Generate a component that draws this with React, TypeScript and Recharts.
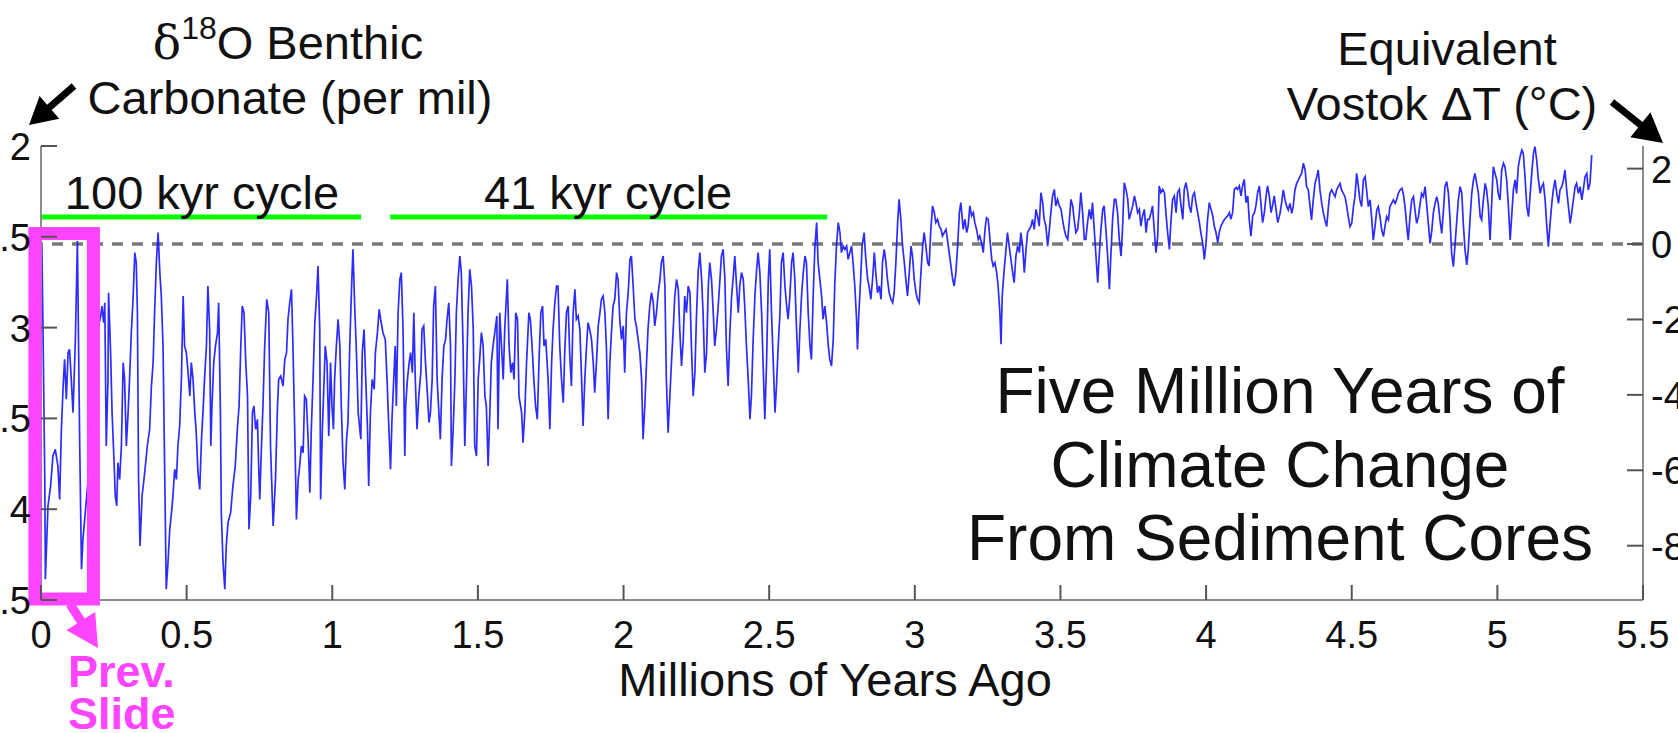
import React from 'react'
import { LineChart, Line, XAxis, YAxis, ReferenceLine, ReferenceArea } from 'recharts'

// benthic d18O stack in six pieces (age in Myr, value in per mil)
const AGE_A = [0.003,0.007,0.013,0.015,0.024,0.033,0.041,0.049,0.058,0.064,0.070,0.076,0.081,0.087,0.093,0.098,0.104,0.110,0.118,0.125,0.129,0.133,0.139,0.144,0.152,0.159,0.167,0.175,0.184,0.193,0.205,0.209,0.215,0.219,0.224,0.230,0.232,0.239,0.244,0.251,0.255,0.260,0.264,0.270,0.276,0.282,0.287,0.293,0.299,0.304,0.310,0.316,0.322,0.327,0.331,0.335,0.340,0.347,0.356,0.365,0.373,0.379,0.385,0.390,0.396,0.402,0.408,0.413,0.419,0.425,0.430,0.436,0.442,0.448,0.453,0.459,0.465,0.470,0.476,0.482,0.488,0.493,0.499,0.505,0.511,0.516,0.522,0.528,0.533,0.539,0.545,0.551,0.556,0.562,0.568,0.573,0.579,0.583,0.587,0.593,0.599,0.606,0.610,0.616,0.619,0.625,0.631,0.636,0.642,0.651,0.659,0.667,0.674,0.680,0.686,0.691,0.697,0.703,0.709,0.714,0.720,0.726,0.731,0.737,0.743,0.747,0.751,0.757,0.762,0.768,0.775,0.782,0.788]
const D18O_A = [2.551,3.028,3.836,4.386,3.982,3.872,3.707,3.670,3.762,3.946,3.560,3.322,3.175,3.395,3.138,3.120,3.285,3.468,3.065,2.523,3.101,3.652,4.331,4.166,4.019,3.891,3.744,3.560,3.285,3.028,2.936,2.881,2.973,2.863,3.652,3.285,2.808,3.138,3.468,3.744,3.927,3.982,3.744,3.836,3.652,3.193,3.285,3.652,3.468,3.285,3.028,2.844,2.587,2.642,2.918,3.836,4.203,3.927,3.799,3.652,3.560,3.322,3.193,2.918,2.642,2.477,2.697,2.826,3.101,3.836,4.441,4.294,4.111,4.019,3.927,3.780,3.836,3.652,3.542,3.285,2.826,3.101,3.138,3.248,3.377,3.193,3.285,3.468,3.579,3.799,3.891,3.615,3.468,3.266,3.101,2.771,3.010,3.652,3.432,3.193,3.101,3.028,2.863,3.468,4.019,4.294,4.441,4.203,4.074,4.019,3.872,3.762,3.560,3.432,3.101,2.881,2.918,3.193,3.377,4.111,3.927,3.468,3.432,3.560,3.505,3.744,3.946,3.652,3.432,3.101,2.844,2.918,3.652]

const AGE_B = [0.797,0.805,0.812,0.816,0.823,0.831,0.837,0.843,0.848,0.854,0.860,0.865,0.871,0.877,0.883,0.888,0.894,0.900,0.905,0.911,0.917,0.923,0.928,0.934,0.940,0.946,0.951,0.957,0.960,0.966,0.972,0.976,0.982,0.988,0.994,0.999,1.004,1.008,1.014,1.020,1.026,1.031,1.037,1.043,1.049,1.054,1.060,1.066,1.071,1.077,1.083,1.089,1.098,1.103,1.109,1.115,1.121,1.125,1.131,1.137,1.144,1.148,1.155,1.161,1.166,1.174,1.182,1.188,1.194,1.200,1.205,1.211,1.216,1.220,1.226,1.232,1.237,1.243,1.249,1.252,1.258,1.264,1.269,1.275,1.280,1.285,1.291,1.297,1.304,1.308,1.314,1.320,1.327,1.332,1.337,1.343,1.348,1.354,1.360,1.366,1.371,1.377,1.383,1.389,1.394,1.400,1.406,1.409,1.415,1.421,1.426,1.432,1.438,1.443,1.449,1.455,1.461,1.466,1.472,1.478,1.484,1.489,1.495,1.501,1.506,1.512,1.518,1.524,1.529,1.535,1.541,1.546,1.552,1.558,1.565]
const D18O_B = [4.092,3.836,3.432,3.285,3.266,3.322,3.175,3.138,2.954,2.863,2.789,3.101,3.560,4.056,3.836,3.762,3.652,3.689,3.377,3.395,3.615,3.909,3.560,3.285,2.973,2.826,2.661,3.010,3.946,3.560,3.285,3.101,3.193,3.597,3.193,3.432,3.560,3.285,3.101,2.954,3.101,3.432,3.744,3.891,3.615,3.523,3.101,2.789,2.569,2.881,3.138,3.468,3.615,3.138,3.010,3.285,3.560,3.872,3.468,3.285,3.340,3.138,3.028,2.899,2.954,3.028,3.065,3.285,3.542,3.780,3.505,3.285,3.101,3.432,2.918,2.734,2.697,3.010,3.707,3.432,3.285,3.193,3.138,3.248,2.918,3.285,3.560,3.377,3.248,3.010,2.991,3.193,3.377,3.523,3.468,3.285,2.881,2.771,3.285,3.468,3.615,3.285,3.101,3.065,2.954,2.863,3.101,3.762,3.560,3.285,2.918,2.734,2.606,2.697,3.101,3.652,3.285,2.918,2.679,2.771,3.010,3.652,3.707,3.285,3.175,3.028,3.101,3.377,3.432,3.762,3.468,3.193,3.101,3.028,2.936]

const AGE_C = [1.569,1.575,1.581,1.587,1.592,1.601,1.607,1.613,1.619,1.624,1.630,1.636,1.641,1.650,1.655,1.661,1.667,1.675,1.680,1.686,1.692,1.698,1.704,1.710,1.716,1.722,1.727,1.733,1.741,1.747,1.753,1.758,1.764,1.770,1.775,1.781,1.787,1.793,1.798,1.804,1.810,1.815,1.821,1.827,1.833,1.838,1.844,1.850,1.856,1.861,1.867,1.873,1.878,1.884,1.890,1.896,1.901,1.907,1.913,1.919,1.924,1.930,1.936,1.941,1.947,1.953,1.959,1.964,1.970,1.976,1.981,1.987,1.993,1.999,2.004,2.010,2.016,2.022,2.027,2.033,2.039,2.044,2.050,2.056,2.062,2.067,2.073,2.079,2.084,2.090,2.096,2.102,2.107,2.113,2.119,2.125,2.130,2.136,2.142,2.147,2.153,2.159,2.165,2.170,2.176,2.182,2.188,2.193,2.199,2.205,2.210,2.216,2.222,2.228,2.233,2.239,2.245,2.250,2.256,2.262,2.268,2.273,2.279,2.285,2.291,2.296,2.302,2.308,2.313,2.319,2.325,2.331,2.336,2.342,2.348,2.353,2.359,2.365]
const D18O_C = [3.560,2.918,3.101,3.285,3.010,2.734,3.101,3.248,3.193,3.285,2.918,2.954,3.377,3.468,3.634,3.468,3.193,2.918,2.954,3.101,3.285,3.432,3.505,3.175,2.918,2.881,3.101,3.065,3.285,3.560,3.193,3.010,2.863,2.771,2.771,3.101,3.285,3.413,3.138,2.918,2.881,3.138,3.322,2.918,2.789,2.954,2.936,3.010,3.285,3.542,3.285,3.101,2.973,3.010,3.065,3.193,3.358,3.193,2.991,2.918,2.844,2.826,2.918,3.101,3.505,3.193,3.010,2.881,2.844,2.697,2.734,2.954,3.065,2.991,3.248,2.918,2.808,2.624,2.606,2.771,2.954,2.991,3.065,3.138,3.285,3.615,3.432,3.193,3.010,2.881,2.808,2.863,2.991,2.918,2.808,2.734,2.642,2.606,2.771,3.285,3.579,3.377,3.175,3.028,2.826,2.734,2.789,3.010,3.211,3.065,2.826,2.918,2.771,2.808,3.101,3.377,3.248,2.954,2.697,2.587,2.734,2.918,3.248,3.138,2.771,2.642,2.734,2.918,3.101,3.010,2.881,2.734,2.606,2.569,2.734,3.101,3.322,3.028]

const AGE_D = [2.371,2.376,2.382,2.388,2.394,2.399,2.405,2.411,2.416,2.422,2.428,2.434,2.439,2.445,2.451,2.457,2.462,2.468,2.474,2.479,2.485,2.491,2.497,2.502,2.508,2.514,2.520,2.525,2.531,2.537,2.542,2.548,2.554,2.560,2.565,2.571,2.577,2.582,2.588,2.594,2.600,2.605,2.611,2.617,2.623,2.628,2.634,2.640,2.645,2.651,2.657,2.663,2.668,2.674,2.680,2.685,2.691,2.697,2.703,2.708,2.714,2.720,2.725,2.731,2.737,2.743,2.748,2.754,2.760,2.766,2.771,2.777,2.783,2.788,2.794,2.800,2.803,2.808,2.814,2.819,2.826,2.831,2.838,2.843,2.849,2.855,2.861,2.866,2.872,2.878,2.884,2.889,2.895,2.901,2.906,2.912,2.918,2.924,2.929,2.935,2.941,2.946,2.952,2.958,2.964,2.969,2.975,2.981,2.987,2.992,2.998,3.004,3.009,3.015,3.021,3.027,3.032,3.038,3.044,3.049,3.055,3.061,3.067,3.072,3.078,3.084,3.090,3.095,3.101,3.107,3.112,3.118,3.124,3.130,3.135,3.141,3.147,3.153,3.158]
const D18O_D = [2.826,2.734,2.606,2.771,2.918,2.771,2.697,2.734,2.881,3.101,3.285,3.505,3.377,3.065,2.826,2.679,2.587,2.697,2.918,3.193,3.505,3.193,2.734,2.569,2.918,3.193,3.468,3.322,3.101,2.918,2.642,2.587,2.771,2.881,2.954,2.826,2.642,2.587,2.734,3.010,3.248,3.028,2.826,2.697,2.606,2.642,2.918,3.101,3.175,2.826,2.551,2.422,2.642,2.734,2.826,2.954,2.881,2.973,3.101,3.175,3.211,3.065,2.771,2.551,2.422,2.477,2.587,2.551,2.569,2.551,2.624,2.587,2.551,2.642,2.771,2.954,3.120,2.918,2.734,2.551,2.477,2.606,2.734,2.771,2.844,2.734,2.587,2.697,2.808,2.771,2.844,2.642,2.569,2.642,2.734,2.808,2.844,2.863,2.808,2.642,2.422,2.294,2.404,2.551,2.642,2.734,2.826,2.697,2.551,2.606,2.734,2.808,2.844,2.863,2.697,2.551,2.477,2.551,2.642,2.661,2.459,2.330,2.367,2.422,2.404,2.441,2.459,2.496,2.477,2.459,2.514,2.587,2.661,2.734,2.771,2.697,2.551,2.367,2.312]

const AGE_E = [3.161,3.166,3.172,3.178,3.183,3.189,3.195,3.201,3.206,3.212,3.218,3.223,3.229,3.235,3.241,3.246,3.252,3.258,3.264,3.269,3.275,3.281,3.286,3.292,3.296,3.300,3.306,3.312,3.318,3.324,3.330,3.336,3.341,3.347,3.353,3.359,3.364,3.370,3.376,3.381,3.387,3.393,3.399,3.404,3.410,3.416,3.421,3.427,3.433,3.439,3.444,3.450,3.456,3.462,3.467,3.473,3.479,3.484,3.490,3.496,3.502,3.507,3.513,3.519,3.525,3.530,3.536,3.542,3.547,3.553,3.559,3.565,3.570,3.576,3.582,3.587,3.593,3.599,3.605,3.610,3.616,3.622,3.628,3.633,3.639,3.645,3.650,3.656,3.662,3.668,3.673,3.679,3.685,3.690,3.696,3.702,3.708,3.713,3.719,3.725,3.731,3.736,3.742,3.748,3.754,3.759,3.765,3.771,3.776,3.782,3.788,3.794,3.799,3.805,3.811,3.816,3.822,3.828,3.834,3.839,3.845,3.851,3.857,3.862,3.868,3.874,3.879,3.885,3.891,3.897,3.902,3.908,3.914,3.920,3.925,3.931,3.937,3.942,3.948,3.954,3.960,3.965,3.971,3.977,3.982,3.988,3.994,4.000,4.005,4.011,4.017,4.023,4.028,4.034,4.040,4.045,4.051,4.057,4.063,4.068,4.074,4.080,4.085,4.091,4.097,4.103,4.108,4.114,4.120,4.125,4.131,4.137,4.143,4.148,4.154,4.160,4.166,4.171,4.177,4.183,4.188,4.194,4.200,4.206,4.211,4.217,4.223,4.228,4.234,4.240,4.246]
const D18O_E = [2.367,2.459,2.404,2.477,2.441,2.330,2.385,2.367,2.422,2.459,2.514,2.496,2.532,2.587,2.459,2.395,2.404,2.514,2.624,2.661,2.642,2.697,2.771,2.918,3.092,2.826,2.697,2.587,2.477,2.551,2.624,2.697,2.753,2.606,2.551,2.587,2.477,2.551,2.697,2.587,2.477,2.459,2.441,2.404,2.459,2.349,2.385,2.441,2.257,2.312,2.404,2.441,2.551,2.459,2.367,2.275,2.239,2.330,2.294,2.330,2.349,2.404,2.459,2.496,2.514,2.422,2.294,2.330,2.404,2.477,2.459,2.367,2.257,2.367,2.514,2.514,2.422,2.349,2.404,2.312,2.459,2.606,2.753,2.606,2.459,2.349,2.330,2.459,2.606,2.789,2.606,2.404,2.294,2.294,2.367,2.514,2.606,2.459,2.202,2.239,2.294,2.404,2.367,2.330,2.275,2.312,2.367,2.349,2.441,2.385,2.349,2.477,2.404,2.404,2.367,2.330,2.459,2.587,2.496,2.220,2.257,2.239,2.257,2.367,2.477,2.569,2.422,2.294,2.275,2.367,2.257,2.239,2.330,2.404,2.239,2.202,2.257,2.330,2.367,2.275,2.257,2.312,2.367,2.422,2.477,2.532,2.624,2.532,2.404,2.312,2.349,2.385,2.441,2.477,2.532,2.477,2.441,2.422,2.404,2.395,2.385,2.367,2.404,2.367,2.239,2.229,2.239,2.220,2.275,2.220,2.184,2.312,2.275,2.404,2.496,2.385,2.367,2.330,2.257,2.220,2.312,2.422,2.367,2.275,2.220,2.275,2.367,2.330,2.275,2.349,2.422]

const AGE_F = [4.254,4.259,4.265,4.271,4.277,4.282,4.288,4.294,4.299,4.305,4.311,4.317,4.322,4.328,4.334,4.340,4.345,4.351,4.357,4.362,4.368,4.374,4.380,4.385,4.391,4.397,4.403,4.408,4.414,4.420,4.425,4.431,4.437,4.443,4.448,4.454,4.460,4.465,4.471,4.477,4.483,4.488,4.494,4.500,4.506,4.511,4.517,4.523,4.528,4.534,4.540,4.546,4.551,4.557,4.563,4.568,4.574,4.580,4.586,4.591,4.597,4.603,4.609,4.614,4.620,4.626,4.631,4.637,4.643,4.649,4.654,4.660,4.666,4.672,4.677,4.683,4.689,4.694,4.700,4.706,4.712,4.717,4.723,4.729,4.735,4.740,4.746,4.752,4.757,4.763,4.769,4.775,4.780,4.786,4.792,4.797,4.803,4.809,4.815,4.820,4.826,4.832,4.837,4.843,4.849,4.855,4.860,4.866,4.872,4.878,4.883,4.889,4.895,4.900,4.906,4.912,4.918,4.923,4.929,4.935,4.941,4.946,4.952,4.958,4.963,4.969,4.975,4.981,4.986,4.992,4.998,5.003,5.009,5.015,5.021,5.026,5.032,5.038,5.044,5.049,5.055,5.061,5.066,5.072,5.078,5.084,5.089,5.095,5.101,5.107,5.112,5.118,5.124,5.129,5.135,5.141,5.147,5.152,5.158,5.164,5.169,5.175,5.181,5.187,5.192,5.198,5.204,5.210,5.215,5.221,5.227,5.232,5.238,5.244,5.250,5.255,5.261,5.267,5.272,5.278,5.284,5.290,5.295,5.301,5.307,5.312,5.318,5.324]
const D18O_F = [2.371,2.316,2.242,2.297,2.334,2.352,2.316,2.371,2.334,2.242,2.206,2.187,2.169,2.151,2.095,2.132,2.224,2.242,2.334,2.407,2.297,2.206,2.169,2.132,2.242,2.316,2.371,2.407,2.444,2.334,2.261,2.242,2.261,2.279,2.242,2.224,2.206,2.242,2.261,2.279,2.334,2.389,2.444,2.426,2.334,2.279,2.151,2.224,2.297,2.334,2.187,2.169,2.242,2.334,2.297,2.389,2.518,2.444,2.352,2.334,2.389,2.463,2.499,2.444,2.389,2.407,2.334,2.316,2.297,2.316,2.297,2.261,2.242,2.233,2.261,2.334,2.444,2.518,2.389,2.297,2.279,2.352,2.426,2.389,2.316,2.261,2.279,2.224,2.316,2.426,2.536,2.463,2.371,2.316,2.279,2.316,2.407,2.481,2.352,2.224,2.196,2.261,2.389,2.591,2.664,2.536,2.426,2.297,2.224,2.261,2.426,2.573,2.655,2.573,2.407,2.261,2.187,2.151,2.206,2.261,2.389,2.407,2.297,2.206,2.242,2.334,2.518,2.297,2.114,2.151,2.187,2.261,2.297,2.132,2.095,2.114,2.187,2.334,2.518,2.389,2.242,2.187,2.261,2.114,2.059,2.022,2.040,2.169,2.334,2.389,2.279,2.151,2.040,2.004,2.077,2.187,2.261,2.224,2.206,2.297,2.426,2.554,2.426,2.316,2.242,2.187,2.261,2.316,2.242,2.224,2.187,2.132,2.242,2.334,2.426,2.371,2.297,2.224,2.206,2.261,2.224,2.297,2.242,2.169,2.151,2.242,2.206,2.050]

const AGE_MYR = [...AGE_A, ...AGE_B, ...AGE_C, ...AGE_D, ...AGE_E, ...AGE_F]
const D18O = [...D18O_A, ...D18O_B, ...D18O_C, ...D18O_D, ...D18O_E, ...D18O_F]

const X_TICKS = [0, 0.5, 1, 1.5, 2, 2.5, 3, 3.5, 4, 4.5, 5, 5.5]
const LEFT_TICKS = [2, 2.5, 3, 3.5, 4, 4.5]
const RIGHT_TICKS = [2, 0, -2, -4, -6, -8]

// horizontal bars marking the two cycle regimes
const CYCLES = [
  { label: '100 kyr cycle', from: 0, to: 1.099 },
  { label: '41 kyr cycle', from: 1.199, to: 2.699 },
]
const CYCLE_LEVEL = 2.391

// the highlighted box (shown on previous slide)
const PREV_BOX = { x1: -0.021, x2: 0.18, y1: 2.482, y2: 4.494 }

const data = AGE_MYR.map((age, i) => ({ age, d18o: D18O[i] }))

const FONT = '"Liberation Sans", Arial, Helvetica, sans-serif'
const MAGENTA = '#ff44ff'
const AXIS = '#8c8c8c'
const TICK = '#555'

const BottomTick = ({ x, y, payload }: any) => (
  <g>
    <line x1={x} x2={x} y1={y} y2={y - 15} stroke={TICK} strokeWidth={2} />
    <text x={x} y={y + 48} textAnchor="middle" fontSize={38} fill="#111" fontFamily={FONT}>{payload.value}</text>
  </g>
)
const TopTick = ({ x, y }: any) => (
  <line x1={x} x2={x} y1={y} y2={y + 15} stroke={TICK} strokeWidth={2} />
)
const LeftTick = ({ x, y, payload }: any) => (
  <g>
    <line x1={x} x2={x + 16} y1={y} y2={y} stroke={TICK} strokeWidth={2} />
    <text x={x - 10} y={y + 14} textAnchor="end" fontSize={38} fill="#111" fontFamily={FONT}>{payload.value}</text>
  </g>
)
const RightTick = ({ x, y, payload }: any) => (
  <g>
    <line x1={x} x2={x - 16} y1={y} y2={y} stroke={TICK} strokeWidth={2} />
    <text x={x + 8} y={y + 14} textAnchor="start" fontSize={38} fill="#111" fontFamily={FONT}>{payload.value}</text>
  </g>
)

function arrow(x1: number, y1: number, x2: number, y2: number, headLen: number, headHalf: number, shaftHalf: number) {
  const L = Math.hypot(x2 - x1, y2 - y1)
  const ux = (x2 - x1) / L, uy = (y2 - y1) / L
  const px = -uy, py = ux
  const bx = x2 - ux * headLen, by = y2 - uy * headLen
  const pts = [
    [x1 + px * shaftHalf, y1 + py * shaftHalf],
    [bx + px * shaftHalf, by + py * shaftHalf],
    [bx + px * headHalf, by + py * headHalf],
    [x2, y2],
    [bx - px * headHalf, by - py * headHalf],
    [bx - px * shaftHalf, by - py * shaftHalf],
    [x1 - px * shaftHalf, y1 - py * shaftHalf],
  ]
  return pts.map(p => p.join(',')).join(' ')
}

export default function App() {
  return (
    <div style={{ position: 'relative', width: 1678, height: 733, background: '#fff', overflow: 'hidden' }}>
      <style>{'body{margin:0}'}</style>
      <LineChart width={1678} height={733} data={data} margin={{ top: 146, right: 0, bottom: 0, left: 0 }}>
        <XAxis xAxisId="bottom" dataKey="age" type="number" domain={[0, 5.5]} ticks={X_TICKS} interval={0}
          allowDataOverflow height={133} tickSize={0} tickMargin={0} tickLine={false}
          axisLine={{ stroke: AXIS, strokeWidth: 2 }} tick={BottomTick} />
        <XAxis xAxisId="top" orientation="top" type="number" domain={[0, 5.5]} ticks={X_TICKS} interval={0}
          allowDataOverflow height={0} tickSize={0} tickMargin={0} tickLine={false}
          axisLine={{ stroke: '#aaa', strokeWidth: 3 }} tick={TopTick} />
        <YAxis yAxisId="left" type="number" domain={[2, 4.5]} reversed ticks={LEFT_TICKS} interval={0}
          allowDataOverflow width={41} tickSize={0} tickMargin={0} tickLine={false}
          axisLine={{ stroke: AXIS, strokeWidth: 2 }} tick={LeftTick} />
        <YAxis yAxisId="right" orientation="right" type="number" domain={[-9.44, 2.6]} ticks={RIGHT_TICKS} interval={0}
          allowDataOverflow width={35} tickSize={0} tickMargin={0} tickLine={false}
          axisLine={{ stroke: AXIS, strokeWidth: 2 }} tick={RightTick} />
        <ReferenceLine xAxisId="bottom" yAxisId="right" y={0} stroke="#7a7a7a" strokeWidth={3.5} strokeDasharray="11 9" />
        {CYCLES.map(c => (
          <ReferenceLine key={c.label} xAxisId="bottom" yAxisId="left"
            segment={[{ x: c.from, y: CYCLE_LEVEL }, { x: c.to, y: CYCLE_LEVEL }]}
            stroke="#00ff00" strokeWidth={5} />
        ))}
        <Line xAxisId="bottom" yAxisId="left" type="linear" dataKey="d18o" stroke="#1a1aff" strokeWidth={1.7}
          strokeOpacity={0.92} dot={false} activeDot={false} isAnimationActive={false} />
        <ReferenceArea xAxisId="bottom" yAxisId="left" x1={PREV_BOX.x1} x2={PREV_BOX.x2} y1={PREV_BOX.y1} y2={PREV_BOX.y2}
          fill="none" fillOpacity={0} stroke={MAGENTA} strokeWidth={13} strokeOpacity={1} ifOverflow="visible" zIndex={1000} />
      </LineChart>

      <svg width={1678} height={733} style={{ position: 'absolute', left: 0, top: 0, pointerEvents: 'none' }}
        fontFamily={FONT} fill="#111">
        <text x={288} y={59} textAnchor="middle" fontSize={47}>
          <tspan fontFamily='"DejaVu Serif", "Liberation Serif", serif'>δ</tspan>
          <tspan fontSize={32} dy={-20}>18</tspan>
          <tspan dy={20}>O Benthic</tspan>
        </text>
        <text x={290} y={114} textAnchor="middle" fontSize={47}>Carbonate (per mil)</text>
        <text x={1447} y={65} textAnchor="middle" fontSize={47}>Equivalent</text>
        <text x={1442} y={120} textAnchor="middle" fontSize={47}>Vostok ΔT (°C)</text>
        <polygon points={arrow(74, 86, 29, 125, 27, 15, 3.5)} fill="#000" />
        <polygon points={arrow(1612, 102, 1663, 143, 29, 16, 3.5)} fill="#000" />

        <text x={202} y={209} textAnchor="middle" fontSize={47}>{CYCLES[0].label}</text>
        <text x={608} y={209} textAnchor="middle" fontSize={47}>{CYCLES[1].label}</text>

        <text textAnchor="middle" fontSize={64}>
          <tspan x={1280} y={413}>Five Million Years of</tspan>
          <tspan x={1280} y={487}>Climate Change</tspan>
          <tspan x={1280} y={560}>From Sediment Cores</tspan>
        </text>

        <text x={835} y={696} textAnchor="middle" fontSize={47}>Millions of Years Ago</text>

        <polygon points={arrow(70, 604, 98, 648, 32, 17, 4.5)} fill={MAGENTA} />
        <text fill={MAGENTA} fontWeight="bold" fontSize={45}>
          <tspan x={68} y={687}>Prev.</tspan>
          <tspan x={68} y={729}>Slide</tspan>
        </text>
      </svg>
    </div>
  )
}
